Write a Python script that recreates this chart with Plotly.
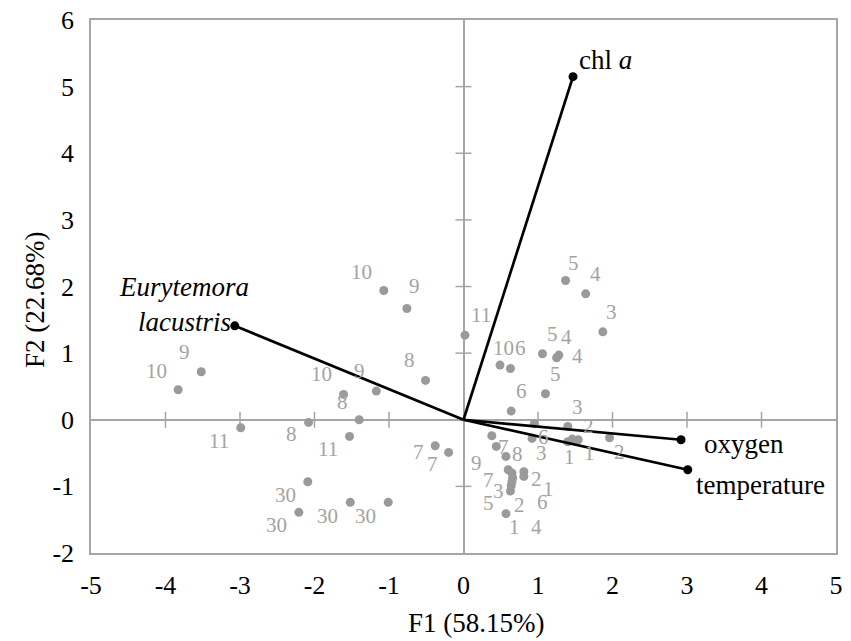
import plotly.graph_objects as go

# ---------------- data ----------------
# Observation scores on F1 / F2 with their sample labels
obs_f1 = [1.37, 1.64, 1.87, 0.02, 1.06, 1.28, 1.25, 0.49, 0.63, 1.10, 0.64,
          0.95, 1.40, 0.92, 1.40, 1.46, 1.54, 1.96,
          0.38, 0.44, 0.57, 0.60, 0.65, 0.66, 0.65, 0.64, 0.63, 0.81, 0.81, 0.57,
          -3.52, -3.83, -2.99, -2.08, -1.53, -0.38, -0.20, -2.09, -2.21, -1.52, -1.01,
          -1.07, -0.76, -0.51, -1.17, -1.61, -1.40]
obs_f2 = [2.09, 1.89, 1.32, 1.27, 0.99, 0.97, 0.93, 0.82, 0.77, 0.39, 0.13,
          -0.06, -0.10, -0.28, -0.33, -0.29, -0.30, -0.27,
          -0.24, -0.40, -0.55, -0.75, -0.80, -0.87, -0.93, -0.99, -1.07, -0.78, -0.85, -1.41,
          0.72, 0.45, -0.12, -0.04, -0.25, -0.39, -0.49, -0.93, -1.39, -1.24, -1.24,
          1.94, 1.67, 0.59, 0.43, 0.38, 0.00]
obs_labels = ["5", "4", "3", "11", "5", "4", "4", "10", "6", "5", "6",
              "6", "3", "3", "1", "2", "1", "2",
              "9", "7", "8", "7", "3", "5", "2", "6", "4", "2", "1", "1",
              "9", "10", "11", "8", "11", "7", "7", "30", "30", "30", "30",
              "10", "9", "8", "9", "10", "8"]

# Variable loadings (vectors)
var_names = ["chl <i>a</i>", "oxygen", "temperature", "<i>Eurytemora</i><br><i>lacustris</i>"]
var_f1 = [1.47, 2.92, 3.01, -3.07]
var_f2 = [5.15, -0.30, -0.75, 1.41]

x_ticks = list(range(-5, 6))
y_ticks = list(range(-2, 7))

x_title = "F1 (58.15%)"
y_title = "F2 (22.68%)"

# ---------------- layout helpers (pixel offsets of labels) ----------------
label_offsets = [(8, -18), (10, -20), (9, -20), (16, -20), (10, -20), (8, -18), (21, -2),
                 (3, -17), (10, -20), (10, -20), (10, -20),
                 (9, 13), (10, -19), (9, 15), (2, 15), (16, -13), (11, 13), (10, 14),
                 (-15, 27), (7, 1), (12, -2), (-20, 10), (-13, 18), (-24, 25), (8, 23),
                 (31, 16), (26, 36), (13, 7), (25, 13), (9, 13),
                 (-17, -20), (-22, -19), (-22, 13), (-17, 12), (-22, 13), (-17, 6), (-16, 12),
                 (-22, 13), (-22, 13), (-23, 14), (-23, 14),
                 (-22, -19), (8, -22), (-16, -20), (-17, -20), (-22, -20), (-17, -18)]
var_label_style = [
    dict(xanchor="left", xshift=4, yshift=17),
    dict(xanchor="left", xshift=21, yshift=-4),
    dict(xanchor="left", xshift=6, yshift=-15),
    dict(xanchor="center", xshift=-51, yshift=21),
]

FONT = "Liberation Serif, Times New Roman, serif"
GRAY_AX = "#a6a6a6"
GRAY_PT = "#9a9a9a"
GRAY_TX = "#a3a3a3"

fig = go.Figure()

# observation points
fig.add_trace(go.Scatter(
    x=obs_f1, y=obs_f2, mode="markers",
    marker=dict(size=9, color=GRAY_PT, line=dict(width=0)),
    hoverinfo="skip", showlegend=False))

# vectors from origin
vx, vy = [], []
for a, b in zip(var_f1, var_f2):
    vx += [0, a, None]
    vy += [0, b, None]
fig.add_trace(go.Scatter(x=vx, y=vy, mode="lines",
                         line=dict(color="black", width=2.7),
                         hoverinfo="skip", showlegend=False))
fig.add_trace(go.Scatter(x=var_f1, y=var_f2, mode="markers",
                         marker=dict(size=9, color="black"),
                         hoverinfo="skip", showlegend=False))

annotations = []
for x, y, t, (dx, dy) in zip(obs_f1, obs_f2, obs_labels, label_offsets):
    annotations.append(dict(x=x, y=y, xref="x", yref="y", text=t, showarrow=False,
                            xshift=dx, yshift=-dy,
                            font=dict(family=FONT, size=21, color=GRAY_TX)))
for x, y, t, st in zip(var_f1, var_f2, var_names, var_label_style):
    annotations.append(dict(x=x, y=y, xref="x", yref="y", text=t, showarrow=False,
                            align="center", yanchor="middle",
                            font=dict(family=FONT, size=27, color="black"), **st))
annotations.append(dict(x=0.5175, y=0, xref="paper", yref="paper", text=x_title,
                        showarrow=False, yanchor="middle", yshift=-70,
                        font=dict(family=FONT, size=27, color="black")))
annotations.append(dict(x=0, y=0.4747, xref="paper", yref="paper", text=y_title,
                        showarrow=False, xanchor="center", xshift=-56, textangle=-90,
                        font=dict(family=FONT, size=27, color="black")))

# cross tick marks on the zero lines
shapes = []
for xv in x_ticks[1:-1]:
    if xv == 0:
        continue
    shapes.append(dict(type="line", xref="x", yref="y", x0=xv, x1=xv,
                       ysizemode="pixel", yanchor=0, y0=-8, y1=8,
                       line=dict(color=GRAY_AX, width=1.5), layer="below"))
for yv in y_ticks[1:-1]:
    if yv == 0:
        continue
    shapes.append(dict(type="line", xref="x", yref="y", y0=yv, y1=yv,
                       xsizemode="pixel", xanchor=0, x0=-8, x1=8,
                       line=dict(color=GRAY_AX, width=1.5), layer="below"))

axis_common = dict(showgrid=False, zeroline=True, zerolinecolor=GRAY_AX, zerolinewidth=1.5,
                   showline=True, mirror=True, linecolor=GRAY_AX, linewidth=1.5,
                   ticks="outside", tickcolor="rgba(0,0,0,0)", automargin=False,
                   ticklabeloverflow="allow",
                   tickfont=dict(family=FONT, size=26, color="black"), fixedrange=True)

# the page body adds an 8px offset, so the figure is shifted up/left by 8px
fig.update_layout(
    width=843, height=633,
    margin=dict(l=83, r=15, t=12, b=88, autoexpand=False),
    paper_bgcolor="white", plot_bgcolor="white",
    showlegend=False,
    font=dict(family=FONT),
    annotations=annotations,
    shapes=shapes,
    xaxis=dict(range=[-5, 5], tickvals=x_ticks, ticktext=[str(v) for v in x_ticks],
               ticklen=8, **axis_common),
    yaxis=dict(range=[-2, 6], tickvals=y_ticks, ticktext=[str(v) for v in y_ticks],
               ticklen=10, **axis_common),
)

fig.write_html("out.html")
